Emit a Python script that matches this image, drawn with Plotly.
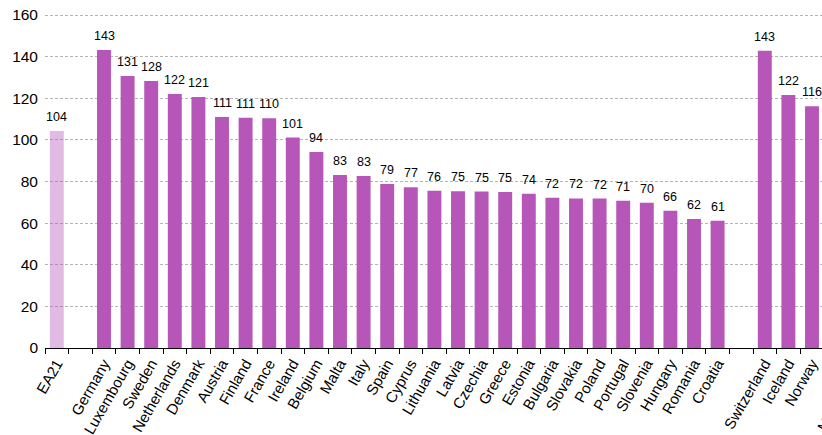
import plotly.graph_objects as go

# categories in display order; blank entries are the spacer slots between groups
countries = [
    "EA21", " ",
    "Germany", "Luxembourg", "Sweden", "Netherlands", "Denmark", "Austria",
    "Finland", "France", "Ireland", "Belgium", "Malta", "Italy", "Spain",
    "Cyprus", "Lithuania", "Latvia", "Czechia", "Greece", "Estonia",
    "Bulgaria", "Slovakia", "Poland", "Portugal", "Slovenia", "Hungary",
    "Romania", "Croatia", "  ",
    "Switzerland", "Iceland", "Norway", "   ",
    "Montenegro",
]
values = [
    104.3, None,
    143.2, 130.7, 128.3, 122.1, 120.6, 111.0,
    110.6, 110.4, 101.1, 94.2, 83.1, 82.7, 78.8,
    77.2, 75.6, 75.3, 75.2, 75.0, 74.1,
    72.2, 71.9, 71.8, 70.8, 69.8, 65.9,
    62.0, 61.2, None,
    142.9, 121.6, 116.2, None,
    None,  # bar lies outside the cropped picture
]

purple = "rgb(181,86,184)"
colors = ["rgba(181,86,184,0.4)" if c == "EA21" else purple for c in countries]

fig = go.Figure()

fig.add_trace(go.Bar(
    x=countries,
    y=values,
    marker=dict(color=colors, line=dict(width=0)),
    showlegend=False,
))

# value labels a little above each bar
for c, v in zip(countries, values):
    if v is None:
        continue
    fig.add_annotation(
        x=c, y=v, text=f"{v:.0f}",
        showarrow=False, yanchor="bottom", yshift=5,
        font=dict(size=12.5, color="black"),
    )

# the plot runs past the right edge of the window, like the cropped original
fig.update_layout(
    width=871,
    height=435,
    margin=dict(l=45, r=0, t=14, b=87),
    paper_bgcolor="white",
    plot_bgcolor="white",
    font=dict(family="Liberation Sans, Arial, sans-serif", size=15, color="black"),
    bargap=0.41,
    xaxis=dict(
        type="category",
        range=[-0.5, 34.5],
        automargin=False,
        tickson="boundaries",
        ticks="outside",
        ticklen=5,
        tickcolor="black",
        tickangle=-60,
        showline=True,
        linecolor="black",
        linewidth=1,
        showgrid=False,
        tickfont=dict(size=15),
    ),
    yaxis=dict(
        range=[0, 160.5],
        tickvals=[0, 20, 40, 60, 80, 100, 120, 140, 160],
        automargin=False,
        showgrid=True,
        gridcolor="#b4b4b4",
        griddash="3px,2px",
        gridwidth=1,
        zeroline=False,
        showline=False,
        ticks="",
        ticklabelstandoff=6,
        ticklabeloverflow="allow",
        tickfont=dict(size=15.5),
    ),
)

# no page margin and no scrollbars, so the figure sits at the window's corner
fig.write_html(
    "out.html",
    config={"displayModeBar": False},
    post_script="document.body.style.margin='0';document.body.style.overflow='hidden';",
)
